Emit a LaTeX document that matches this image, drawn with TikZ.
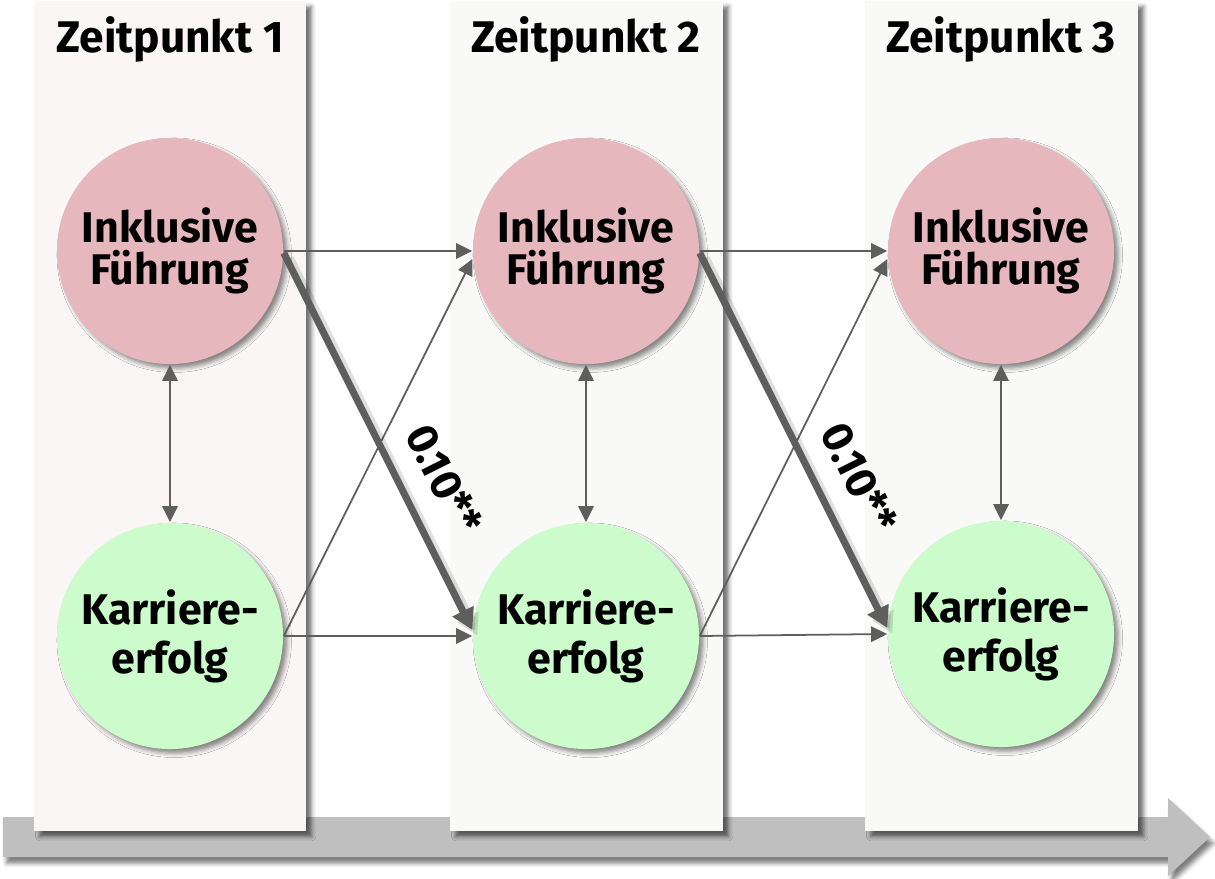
\documentclass[tikz,border=0pt]{standalone}
\usepackage{fontspec}
\setsansfont{Fira Sans}
\usetikzlibrary{arrows.meta,positioning,shadows.blur}

\definecolor{spalteA}{HTML}{FAF6F5}
\definecolor{spalteB}{HTML}{F9F9F7}
\definecolor{fuehrung}{HTML}{E6B8BD}
\definecolor{erfolg}{HTML}{CCFCCC}
\definecolor{pfeil}{HTML}{5E5E5E}
\definecolor{zeitachse}{HTML}{BFBFBF}

\begin{document}
\begin{tikzpicture}[x=0.01cm, y=-0.01cm,
    spalte/.style={blur shadow={shadow xshift=1.6pt, shadow yshift=-1.6pt, shadow opacity=55, shadow blur radius=1.2pt}},
    titel/.style={anchor=base, font=\fontsize{12.6}{15}\sffamily\bfseries},
    kreis/.style={circle, minimum size=2.26cm, inner sep=0pt, align=center,
      font=\fontsize{12.2}{12}\sffamily\bfseries,
      blur shadow={shadow xshift=1.2pt, shadow yshift=-1.2pt, shadow opacity=45, shadow blur radius=1.2pt}},
    ik/.style={kreis, fill=fuehrung},
    ke/.style={kreis, fill=erfolg},
    duenn/.style={pfeil, line width=0.5pt, -{Triangle[length=4.6pt, width=4.4pt]}},
    dick/.style={pfeil, line width=2pt, -{Triangle[length=6pt, width=6.4pt]},
      preaction={draw=black, opacity=.12, line width=3pt, transform canvas={shift={(1.4pt,-1.6pt)}}}},
    beide/.style={pfeil, line width=0.5pt, {Triangle[length=4.6pt, width=4.4pt]}-{Triangle[length=4.6pt, width=4.4pt]}},
    wert/.style={sloped, above=3pt, pos=0.65, text=black, font=\fontsize{12.4}{14}\sffamily\bfseries}]
  \useasboundingbox (0,0) rectangle (1215,879);

  % time axis
  \fill[zeitachse, blur shadow={shadow xshift=1pt, shadow yshift=-1.8pt, shadow opacity=50, shadow blur radius=1.2pt}]
    (3,817) -- (1168,817) -- (1168,798) -- (1210,837) -- (1168,876) -- (1168,857) -- (3,857) -- cycle;

  % columns
  \fill[spalteA, spalte] (34,1) rectangle (306,831);
  \fill[spalteB, spalte] (450,1) rectangle (723,831);
  \fill[spalteB, spalte] (865,1) rectangle (1138,831);

  % Zeitpunkt 1
  \node[titel] (t1) at (170,53) {Zeitpunkt 1};
  \node[ik] (i1) at (170,251) {Inklusive\\Führung};
  \node[ke] (k1) at (170,636) {Karriere-\\[2pt]erfolg};

  % Zeitpunkt 2
  \node[titel] (t2) at (586,53) {Zeitpunkt 2};
  \node[ik] (i2) at (586,251) {Inklusive\\Führung};
  \node[ke] (k2) at (586,636) {Karriere-\\[2pt]erfolg};

  % Zeitpunkt 3
  \node[titel] (t3) at (1001,53) {Zeitpunkt 3};
  \node[ik] (i3) at (1001,251) {Inklusive\\Führung};
  \node[ke] (k3) at (1001,634) {Karriere-\\[2pt]erfolg};

  % paths 1 -> 2
  \draw[duenn] (i1.east) -- (i2.west);
  \draw[duenn] (k1.east) -- (i2.184);
  \draw[duenn] (k1.east) -- (k2.west);
  \draw[dick] (i1.-1) -- node[wert] {0.10**} (k2.177);

  % paths 2 -> 3
  \draw[duenn] (i2.east) -- (i3.west);
  \draw[duenn] (k2.east) -- (i3.184);
  \draw[duenn] (k2.east) -- (k3.west);
  \draw[dick] (i2.-1) -- node[wert] {0.10**} (k3.177);

  % correlations
  \draw[beide] (i1.south) -- (k1.north);
  \draw[beide] (i2.south) -- (k2.north);
  \draw[beide] (i3.south) -- (k3.north);
\end{tikzpicture}
\end{document}
